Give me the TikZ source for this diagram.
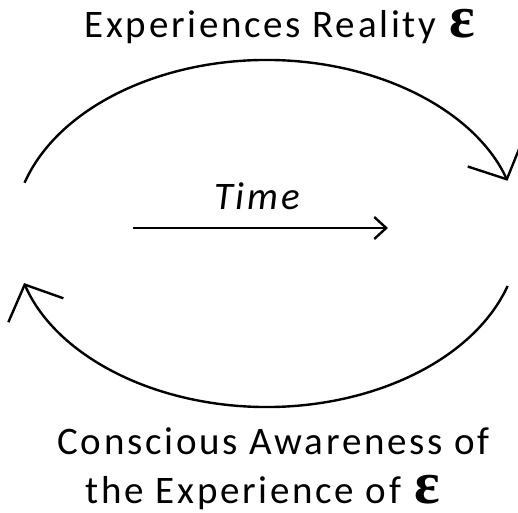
\documentclass[tikz,border=0pt]{standalone}
\usepackage{amsmath, amssymb}
\usepackage{fontspec}
\setmainfont[LetterSpace=7]{Carlito}
\newfontfamily\epsfont{Liberation Serif}
\usepackage{tikz}
\usetikzlibrary{arrows.meta,%
                positioning}

\newcommand{\bigeps}{\hspace{2pt}{\epsfont\bfseries\fontsize{60}{60}\selectfont ε}}

\begin{document}
\begin{tikzpicture}[x=1pt,y=1pt,
  loop/.style={line width=2.4pt, -{Straight Barb[length=28pt,width=60pt,line width=2.4pt]}},
  timearrow/.style={line width=2.4pt, -{Straight Barb[length=12pt,width=22pt,line width=2.4pt]}},
  caption/.style={font=\fontsize{39}{44}\selectfont, inner sep=0pt, anchor=base}]
\useasboundingbox (0,0) rectangle (518,512);
%\draw[help lines] (0,0) grid[step=50] (518,512);
\coordinate (O) at (266.5,278.5);
\coordinate (T1) at (133,284);
\coordinate (T2) at (388,284);
\node[caption] (reality) at (280,474) {Experiences Reality \bigeps};
\node[caption] (time) at (257,303) {\itshape Time};
\node[caption] (aware) at (273.5,58) {Conscious Awareness of};
\node[caption] (experience) at (263,9) {the Experience of \bigeps};
\draw[loop] (O) ++(163:253 and 173.5) arc[start angle=163, end angle=17.7, x radius=253, y radius=173.5];
\draw[loop] (O) ++(-17.6:253 and 173.5) arc[start angle=-17.6, end angle=-163.4, x radius=253, y radius=173.5];
\draw[timearrow] (T1) -- (T2);
\end{tikzpicture}
\end{document}
